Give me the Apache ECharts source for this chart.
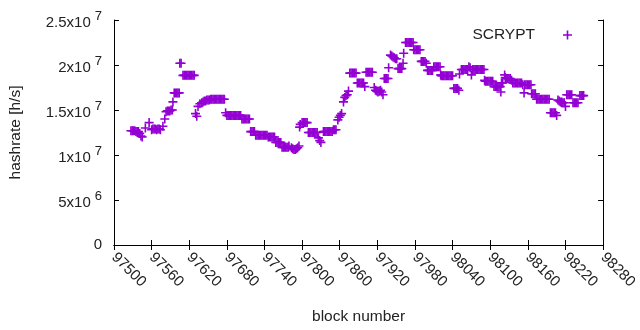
<!DOCTYPE html>
<html>
<head>
<meta charset="utf-8">
<script src="https://cdn.jsdelivr.net/npm/echarts@6/dist/echarts.min.js"></script>
<style>
    html, body { margin: 0; padding: 0; background: #fff; }
    #chart { width: 640px; height: 330px; }
</style>
</head>
<body>
<div id="chart"></div>
<script>
// block numbers (x)
var blocks = [
    97527, 97529, 97531, 97533, 97535, 97537, 97539, 97541, 97543, 97545,
    97550, 97556,
    97560, 97562, 97564, 97566, 97568, 97570, 97572, 97574,
    97578, 97581,
    97583, 97585, 97587, 97589, 97591, 97593,
    97594,
    97596, 97598, 97600, 97602, 97604,
    97605, 97607,
    97610, 97612, 97614, 97616, 97618, 97620, 97622, 97624, 97626, 97628,
    97630, 97632, 97634, 97637,
    97640, 97642, 97644, 97646, 97648, 97650, 97652, 97654,
    97656, 97658, 97660, 97662, 97664, 97666, 97668, 97670, 97672, 97674, 97676,
    97678,
    97680, 97682, 97684, 97686, 97688, 97690, 97692, 97694, 97696, 97698, 97700, 97702,
    97704, 97706, 97708, 97710, 97712, 97714, 97716,
    97718, 97720, 97722, 97724,
    97726, 97728, 97730, 97732, 97734, 97736, 97738, 97740, 97742, 97744,
    97746, 97748, 97750, 97752, 97754, 97756,
    97758, 97760, 97762, 97764, 97766,
    97768, 97770, 97772, 97774, 97776, 97778,
    97779,
    97783, 97785, 97787, 97789, 97791, 97793,
    97795, 97796, 97797,
    97800, 97802, 97804, 97806, 97808,
    97810, 97812, 97814, 97816, 97818, 97820, 97822, 97824,
    97826, 97828, 97830,
    97834, 97836, 97838, 97840, 97842, 97844, 97846, 97848,
    97850, 97852, 97854,
    97857, 97859, 97861, 97863,
    97866,
    97868, 97870, 97872, 97874,
    97876, 97878, 97880, 97882, 97884, 97886,
    97888, 97890, 97892, 97894, 97896, 97898,
    97900,
    97902, 97904, 97906, 97908, 97910, 97912,
    97915, 97917, 97919, 97921, 97923, 97925, 97927, 97929,
    97931, 97933, 97935, 97937, 97938,
    97941, 97943, 97945, 97947, 97949, 97951,
    97953, 97955, 97957, 97959, 97961, 97962,
    97965, 97967, 97969, 97971, 97973, 97975, 97977,
    97978, 97980, 97982, 97984, 97986, 97988,
    97990, 97992, 97994, 97996, 97998,
    98000, 98002, 98004, 98006, 98008,
    98010, 98012, 98014, 98016, 98018, 98020,
    98021,
    98022, 98024, 98026, 98028, 98030, 98032, 98034, 98036, 98038, 98040,
    98042, 98044, 98046, 98048, 98050,
    98051,
    98054, 98056, 98058, 98060, 98062, 98064,
    98066, 98068, 98070,
    98072, 98074, 98076, 98078, 98080, 98082, 98084, 98086, 98088, 98090,
    98091,
    98092, 98094, 98096, 98098, 98100, 98102, 98104,
    98106, 98108, 98110, 98112, 98114, 98116, 98117,
    98118, 98120,
    98123,
    98124, 98126, 98128, 98130, 98132, 98134,
    98136, 98138, 98140, 98142, 98144, 98146, 98148, 98150, 98152,
    98154,
    98155, 98157, 98159, 98161, 98163, 98165,
    98166, 98168, 98170, 98172,
    98174, 98176, 98178, 98180, 98182, 98184, 98186, 98188, 98190, 98192, 98194,
    98196, 98198, 98200, 98202, 98204, 98206,
    98208, 98210, 98212, 98214, 98216, 98218, 98220,
    98222, 98224, 98226, 98228, 98230,
    98232, 98234, 98236, 98238, 98240,
    98243, 98245, 98247, 98249
];

// hashrate in millions of h/s, same order as blocks
var hashrateM = [
    12.7, 12.7, 12.7, 12.7, 12.6, 12.6, 12.6, 12.4, 12.1, 12.0,
    13.0, 13.6,
    12.8, 12.9, 12.9, 12.9, 12.8, 12.9, 12.9, 12.8,
    13.2, 14.0,
    14.8, 14.9, 14.9, 14.9, 15.0, 15.0,
    15.9,
    16.9, 16.9, 16.9, 16.9, 16.9,
    20.2, 20.2,
    18.85, 18.85, 18.85, 18.85, 18.85, 18.85, 18.85, 18.85, 18.85, 18.85,
    14.6, 14.3, 15.4, 15.7,
    15.8, 15.9, 16.0, 16.0, 16.1, 16.1, 16.1, 16.2,
    16.2, 16.2, 16.2, 16.2, 16.2, 16.2, 16.2, 16.2, 16.2, 16.2, 16.2,
    14.7,
    14.4, 14.4, 14.4, 14.4, 14.4, 14.4, 14.4, 14.4, 14.4, 14.4, 14.4, 14.4,
    14.0, 14.0, 14.0, 14.0, 14.0, 14.0, 14.0,
    12.6, 12.6, 12.6, 12.6,
    12.2, 12.2, 12.2, 12.2, 12.2, 12.2, 12.2, 12.2, 12.2, 12.2,
    12.0, 12.0, 12.0, 12.0, 12.0, 12.0,
    11.4, 11.4, 11.4, 11.4, 11.4,
    10.85, 10.85, 10.85, 10.85, 10.85, 10.85,
    11.0,
    10.8, 10.7, 10.6, 10.6, 10.7, 10.8,
    11.0, 13.1, 13.4,
    13.6, 13.6, 13.6, 13.6, 13.6,
    12.5, 12.5, 12.5, 12.5, 12.5, 12.5, 12.5, 12.5,
    11.9, 11.6, 11.4,
    12.6, 12.6, 12.6, 12.6, 12.6, 12.6, 12.6, 12.6,
    12.8, 12.8, 12.8,
    13.9, 14.2, 14.4, 14.6,
    15.9,
    16.4, 16.6, 16.7, 17.1,
    19.1, 19.1, 19.1, 19.1, 19.1, 19.1,
    18.0, 18.0, 18.0, 18.0, 18.0, 18.0,
    17.6,
    19.2, 19.2, 19.2, 19.2, 19.2, 19.2,
    17.5, 17.2, 17.1, 17.0, 17.1, 17.2, 17.0, 16.7,
    18.5, 18.5, 18.5, 18.5, 19.7,
    21.1, 21.0, 20.9, 20.8, 20.7, 20.7,
    19.6, 19.6, 19.6, 19.6, 20.2, 21.3,
    22.5, 22.5, 22.5, 22.5, 22.5, 22.5, 22.5,
    21.7, 21.7, 21.7, 21.7, 21.7, 21.7,
    20.4, 20.4, 20.4, 20.4, 20.2,
    19.4, 19.4, 19.4, 19.4, 19.4,
    19.8, 19.8, 19.8, 19.8, 19.8, 19.8,
    18.9,
    18.8, 18.8, 18.8, 18.8, 18.8, 18.8, 18.8, 18.8, 18.8, 18.8,
    17.4, 17.4, 17.4, 17.4, 17.2,
    19.0,
    19.5, 19.5, 19.5, 19.5, 19.5, 19.5,
    19.8, 19.7, 18.9,
    19.5, 19.5, 19.5, 19.5, 19.5, 19.5, 19.5, 19.5, 19.5, 19.5,
    18.3,
    18.2, 18.2, 18.2, 18.2, 18.2, 18.2, 18.2,
    17.6, 17.6, 17.6, 17.6, 17.6, 17.6, 17.0,
    18.0, 18.0,
    18.9,
    18.6, 18.5, 18.5, 18.5, 18.5, 18.3,
    18.0, 18.0, 18.0, 18.0, 18.0, 18.0, 18.0, 18.0, 17.8,
    16.9,
    17.8, 17.8, 17.8, 17.8, 17.8, 17.8,
    16.8, 16.8, 16.8, 16.8,
    16.2, 16.2, 16.2, 16.2, 16.2, 16.2, 16.2, 16.2, 16.2, 16.2, 16.2,
    14.7, 14.7, 14.7, 14.7, 14.7, 14.4,
    16.1, 16.0, 15.9, 15.9, 15.8, 15.8, 15.4,
    16.7, 16.7, 16.7, 16.7, 16.7,
    15.8, 15.8, 15.8, 15.8, 15.8,
    16.6, 16.6, 16.6, 16.6
];

var seriesName = 'SCRYPT';
var xMin = 97500, xMax = 98280, xStep = 60;
var yMin = 0, yMax = 25000000, yStep = 5000000;

var purple = '#9400d3';
var font = 'Liberation Sans';
// gnuplot "+" point, drawn as two thin bars
var plus = 'path://M0,3.7H9V5.3H0Z M3.7,0H5.3V9H3.7Z';

var points = [];
for (var i = 0; i < blocks.length; i++) {
    points.push([blocks[i], hashrateM[i] * 1e6]);
}

// gnuplot style 5x10^6 labels
function sciLabel(v) {
    if (v === 0) return '{m|0}';
    var e = Math.floor(Math.log10(v) + 1e-9);
    var m = +(v / Math.pow(10, e)).toFixed(2);
    return '{m|' + m + 'x10}{e|' + e + '}';
}

var myChart = echarts.init(document.getElementById('chart'));
var option = {
    animation: false,
    backgroundColor: '#fff',
    textStyle: { fontFamily: font },
    grid: { left: 114, right: 32, top: 20, bottom: 85 },
    legend: {
        data: [seriesName],
        right: 63,
        top: 22,
        align: 'right',
        itemWidth: 9,
        itemHeight: 9,
        selectedMode: false,
        textStyle: { fontSize: 15.5, color: '#222', fontFamily: font, padding: [0, 23, 0, 0] }
    },
    xAxis: [
        {
            type: 'value',
            min: xMin, max: xMax, interval: xStep,
            position: 'bottom',
            name: 'block number',
            nameLocation: 'middle',
            nameGap: 64,
            nameTextStyle: { fontSize: 15.5, color: '#222', fontFamily: font },
            axisLine: { lineStyle: { color: '#000', width: 1 } },
            axisTick: { inside: true, length: 5, lineStyle: { color: '#000' } },
            axisLabel: {
                rotate: -45, margin: 10, fontSize: 15, color: '#222', fontFamily: font,
                formatter: function (v) { return String(v); }
            },
            splitLine: { show: false }
        },
        {
            type: 'value',
            min: xMin, max: xMax, interval: xStep,
            position: 'top',
            axisLine: { lineStyle: { color: '#000', width: 1 } },
            axisTick: { inside: true, length: 5, lineStyle: { color: '#000' } },
            axisLabel: { show: false },
            splitLine: { show: false }
        }
    ],
    yAxis: [
        {
            type: 'value',
            min: yMin, max: yMax, interval: yStep,
            position: 'left',
            name: 'hashrate [h/s]',
            nameLocation: 'middle',
            nameGap: 90,
            nameTextStyle: { fontSize: 15.5, color: '#222', fontFamily: font },
            axisLine: { show: true, lineStyle: { color: '#000', width: 1 } },
            axisTick: { show: true, inside: true, length: 5, lineStyle: { color: '#000' } },
            axisLabel: {
                margin: 12,
                formatter: sciLabel,
                rich: {
                    m: { fontSize: 15, color: '#222', fontFamily: font, verticalAlign: 'bottom' },
                    e: { fontSize: 13, color: '#222', fontFamily: font, verticalAlign: 'bottom', padding: [0, 0, 7, 4] }
                }
            },
            splitLine: { show: false }
        },
        {
            type: 'value',
            min: yMin, max: yMax, interval: yStep,
            position: 'right',
            axisLine: { show: true, lineStyle: { color: '#000', width: 1 } },
            axisTick: { show: true, inside: true, length: 5, lineStyle: { color: '#000' } },
            axisLabel: { show: false },
            splitLine: { show: false }
        }
    ],
    series: [
        {
            name: seriesName,
            type: 'scatter',
            symbol: plus,
            symbolSize: 9,
            itemStyle: { color: purple, opacity: 1 },
            data: points
        }
    ]
};

myChart.setOption(option);
</script>
</body>
</html>
